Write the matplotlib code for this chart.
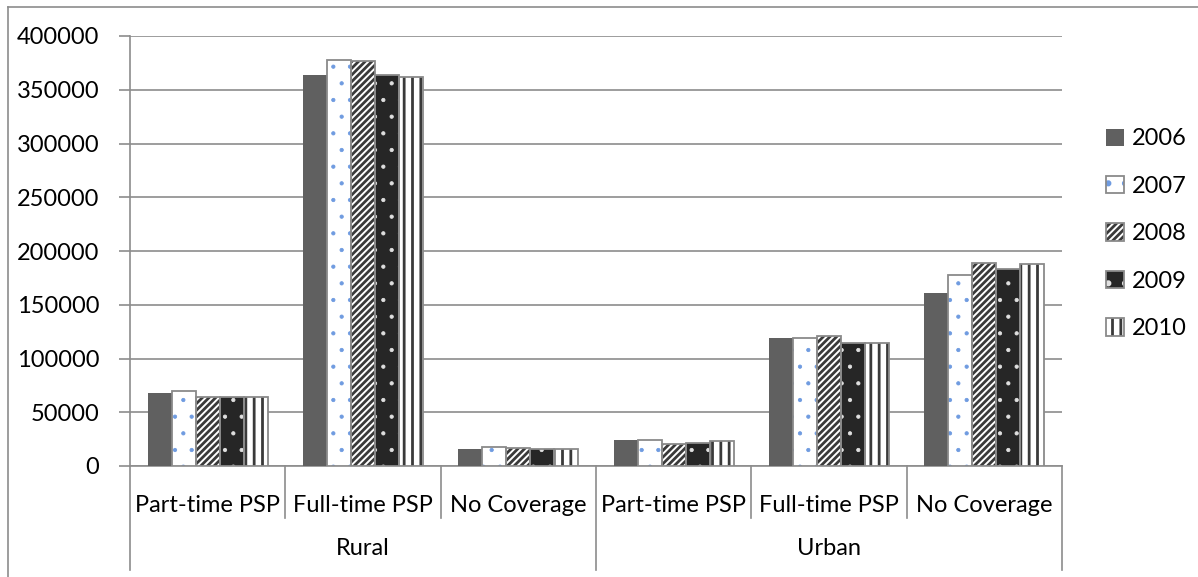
import numpy as np
import matplotlib.pyplot as plt
import matplotlib.transforms as mtransforms
from matplotlib.patches import Patch
from matplotlib.lines import Line2D

plt.rcParams['font.family'] = ['Lato', 'DejaVu Sans']
plt.rcParams['hatch.linewidth'] = 2.0

groups = ['Rural', 'Urban']
categories = ['Part-time PSP', 'Full-time PSP', 'No Coverage',
              'Part-time PSP', 'Full-time PSP', 'No Coverage']
years = ['2006', '2007', '2008', '2009', '2010']

v2006 = [68000, 364000, 16000, 24000, 119000, 161000]
v2007 = [70000, 378000, 18000, 24500, 119000, 178000]
v2008 = [64000, 377000, 16500, 20500, 121000, 188500]
v2009 = [64000, 364000, 16000, 21000, 114500, 183500]
v2010 = [64500, 362000, 15500, 23500, 114000, 187500]
series = [v2006, v2007, v2008, v2009, v2010]

# face, hatch, hatch colour, hatch line width
styles = [
    ('#606060', '', None, 0),
    ('white', '.', '#6f9be0', 0.6),
    ('white', '/////', '#3a3a3a', 2.0),
    ('#262626', '.', '#e0e0e0', 0.6),
    ('white', '||', '#3a3a3a', 2.0),
]
edge = '#8a8a8a'


def set_hlw(p, lw):
    if hasattr(p, 'set_hatch_linewidth'):
        p.set_hatch_linewidth(lw)


fig = plt.figure(figsize=(11.98, 5.77), dpi=100)
ax = fig.add_axes([130 / 1198, 1 - 466 / 577, 932 / 1198, 430 / 577])

x = np.arange(len(categories))
w = 0.1545
handles = []
for i, (vals, (fc, hatch, hc, hlw)) in enumerate(zip(series, styles)):
    pos = x + (i - 2) * w
    if hatch:
        bars = ax.bar(pos, vals, w, color=fc, edgecolor=hc, linewidth=0, hatch=hatch, zorder=3)
        for p in bars:
            set_hlw(p, hlw)
        ax.bar(pos, vals, w, fill=False, edgecolor=edge, linewidth=1.3, zorder=4)
        h1 = Patch(facecolor=fc, edgecolor=hc, linewidth=0, hatch=hatch)
        set_hlw(h1, hlw)
        h2 = Patch(fill=False, edgecolor=edge, linewidth=1.3)
        handles.append((h1, h2))
    else:
        ax.bar(pos, vals, w, color=fc, linewidth=0, zorder=3)
        handles.append(Patch(facecolor=fc, linewidth=0))

ax.set_xlim(-0.5, len(categories) - 0.5)
ax.set_ylim(0, 400000)
ax.set_yticks(np.arange(0, 400001, 50000))
ax.yaxis.grid(True, color='#8c8c8c', linewidth=1.2, zorder=0)
ax.set_axisbelow(True)
ax.tick_params(axis='y', length=8, width=1.2, color='#8c8c8c', pad=14, labelsize=17)
ax.tick_params(axis='x', bottom=False, labelbottom=False)
for s in ['top', 'right']:
    ax.spines[s].set_visible(False)
for s in ['left', 'bottom']:
    ax.spines[s].set_color('#8c8c8c')
    ax.spines[s].set_linewidth(1.2)

trans = mtransforms.blended_transform_factory(ax.transData, ax.transAxes)
for i, c in enumerate(categories):
    ax.text(i, -0.091, c, transform=trans, ha='center', va='center', fontsize=17)
for gi, g in enumerate(groups):
    ax.text(gi * 3 + 1, -0.193, g, transform=trans, ha='center', va='center', fontsize=17)
for b in np.arange(-0.5, len(categories), 1):
    low = -0.242 if b in (-0.5, 2.5, 5.5) else -0.121
    ax.add_line(Line2D([b, b], [0, low], transform=trans, color='#8c8c8c',
                       linewidth=1.2, clip_on=False))

ax.legend(handles, years, loc='center left', bbox_to_anchor=(1.0375, 0.54),
          frameon=False, fontsize=17, handlelength=0.75, handleheight=0.75,
          handletextpad=0.35, labelspacing=1.12, borderaxespad=0)

fig.add_artist(Line2D([8 / 1198, 8 / 1198], [0, 1 - 7 / 577], color='#8c8c8c', linewidth=1.2))
fig.add_artist(Line2D([8 / 1198, 1], [1 - 7 / 577, 1 - 7 / 577], color='#8c8c8c', linewidth=1.2))

fig.savefig('out.png', dpi=100)
